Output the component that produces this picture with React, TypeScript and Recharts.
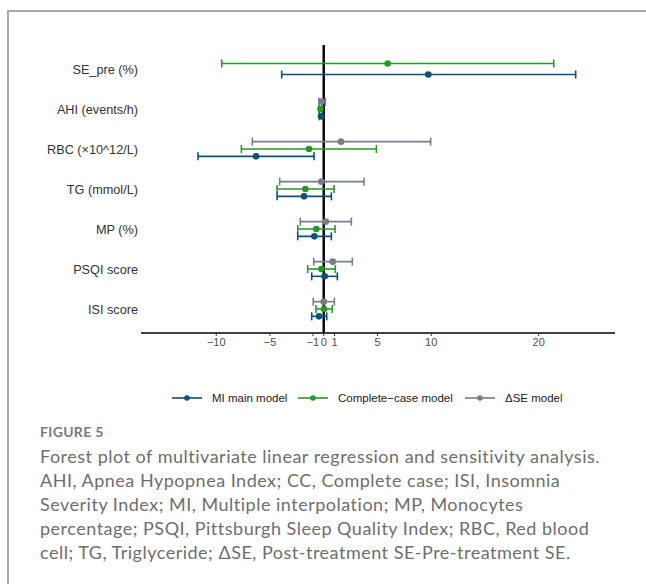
import React from 'react';
import { ComposedChart, Scatter, ErrorBar, XAxis, YAxis, ReferenceLine } from 'recharts';

const categories = ['SE_pre (%)', 'AHI (events/h)', 'RBC (×10^12/L)', 'TG (mmol/L)', 'MP (%)', 'PSQI score', 'ISI score'];

const miEst = [9.73, -0.25, -6.3, -1.83, -0.87, 0.09, -0.44];
const miLo = [-3.91, -0.4, -11.7, -4.34, -2.42, -1.12, -1.12];
const miHi = [23.44, -0.1, -0.9, 0.71, 0.71, 1.27, 0.28];

const ccEst = [5.95, -0.3, -1.37, -1.71, -0.69, -0.22, 0.03];
const ccLo = [-9.49, -0.45, -7.66, -4.34, -2.42, -1.49, -0.72];
const ccHi = [21.4, -0.15, 4.9, 0.96, 1.05, 1.08, 0.8];

const dseEst = [null, -0.22, 1.61, -0.22, 0.19, 0.84, 0.0];
const dseLo = [null, -0.45, -6.64, -4.1, -2.18, -0.93, -0.97];
const dseHi = [null, 0.15, 9.95, 3.75, 2.57, 2.66, 0.99];

const xTicks = [-10, -5, -1, 0, 1, 5, 10, 20];

const seriesNames = ['MI main model', 'Complete\u2212case model', '\u0394SE model'];
const colors = ['#0b5276', '#2a952a', '#767d86'];

type S = { est: (number | null)[]; lo: (number | null)[]; hi: (number | null)[] };
const series: S[] = [
  { est: miEst, lo: miLo, hi: miHi },
  { est: ccEst, lo: ccLo, hi: ccHi },
  { est: dseEst, lo: dseLo, hi: dseHi },
];

// stacking order within a row from top: dSE (2), CC (1), MI (0)
const DODGE = 0.55;
function buildData(si: number) {
  const out: any[] = [];
  categories.forEach((_, i) => {
    const present = [2, 1, 0].filter((k) => series[k].est[i] !== null);
    const n = present.length;
    const pos = present.indexOf(si);
    const e = series[si].est[i];
    if (e === null || pos < 0) return;
    const off = (pos - (n - 1) / 2) * (DODGE / n);
    out.push({
      x: e,
      y: i + off,
      err: [e - (series[si].lo[i] as number), (series[si].hi[i] as number) - e],
    });
  });
  return out;
}

const fmt = (v: number) => (v < 0 ? '\u2212' + Math.abs(v) : String(v));

const Dot = (color: string) => (props: any) => {
  const { cx, cy } = props;
  if (cx == null || cy == null) return <g />;
  return <circle cx={cx} cy={cy} r={3.3} fill={color} />;
};

const captionLines = [
  'Forest plot of multivariate linear regression and sensitivity analysis.',
  'AHI, Apnea Hypopnea Index; CC, Complete case; ISI, Insomnia',
  'Severity Index; MI, Multiple interpolation; MP, Monocytes',
  'percentage; PSQI, Pittsburgh Sleep Quality Index; RBC, Red blood',
  'cell; TG, Triglyceride; \u0394SE, Post-treatment SE-Pre-treatment SE.',
];

export default function App() {
  const order = [2, 1, 0];
  return (
    <div style={{ position: 'absolute', left: 0, top: 0, width: 646, height: 584, overflow: 'hidden', background: '#fff' }}>
      <div style={{ position: 'absolute', left: 7, top: 10, width: 700, height: 700, borderTop: '2px solid #a8a8a8', borderLeft: '2px solid #a8a8a8' }} />
      <div style={{ position: 'absolute', left: 0, top: 0 }}>
        <ComposedChart width={646} height={380} margin={{ top: 45, right: 31, left: 0, bottom: 17 }}>
          <XAxis
            type="number"
            dataKey="x"
            domain={[-17, 27.1]}
            ticks={xTicks}
            allowDataOverflow
            tickFormatter={fmt}
            axisLine={{ stroke: '#000', strokeWidth: 1.6 }}
            tickLine={{ stroke: '#333', strokeWidth: 1 }}
            tickSize={3}
            tick={{ fill: '#4d4d4d', fontSize: 11, fontFamily: 'Liberation Sans, Arial, sans-serif' }}
            height={30}
            interval={0}
          />
          <YAxis
            type="number"
            dataKey="y"
            domain={[-0.6, 6.6]}
            ticks={[0, 1, 2, 3, 4, 5, 6]}
            reversed
            allowDataOverflow
            width={141}
            axisLine={false}
            tickLine={false}
            tickSize={0}
            tickMargin={3}
            interval={0}
            tickFormatter={(v: number) => categories[Math.round(v)] ?? ''}
            tick={{ fill: '#333333', fontSize: 12.7, fontFamily: 'Liberation Sans, Arial, sans-serif' }}
          />
          <ReferenceLine x={0} stroke="#000" strokeWidth={2.4} ifOverflow="extendDomain" />
          {order.map((si) => (
            <Scatter
              key={si}
              name={seriesNames[si]}
              data={buildData(si)}
              fill={colors[si]}
              shape={Dot(colors[si])}
              isAnimationActive={false}
            >
              <ErrorBar dataKey="err" direction="x" width={4} stroke={colors[si]} strokeWidth={1.6} isAnimationActive={false} />
            </Scatter>
          ))}
        </ComposedChart>
      </div>
      <div style={{ position: 'absolute', left: 0, top: 388, width: 646, height: 20, fontFamily: 'Liberation Sans, Arial, sans-serif', fontSize: 11.5, color: '#1a1a1a' }}>
        {[0, 1, 2].map((si) => {
          const lefts = [172, 298, 465];
          return (
            <div key={si} style={{ position: 'absolute', left: lefts[si], top: 0, height: 20, display: 'flex', alignItems: 'center', whiteSpace: 'nowrap' }}>
              <svg width={30} height={10} style={{ marginRight: 10 }}>
                <line x1={0} y1={5} x2={30} y2={5} stroke={colors[si]} strokeWidth={1.6} />
                <circle cx={15} cy={5} r={2.8} fill={colors[si]} />
              </svg>
              <span>{seriesNames[si]}</span>
            </div>
          );
        })}
      </div>
      <div style={{ position: 'absolute', left: 40, top: 423, fontFamily: 'Lato, "Open Sans", sans-serif', fontWeight: 700, fontSize: 14, color: '#7a7a7a', letterSpacing: 0.3 }}>
        FIGURE 5
      </div>
      {captionLines.map((t, i) => (
        <div key={i} style={{ position: 'absolute', left: 40, top: 444 + i * 24, fontFamily: 'Lato, "Open Sans", sans-serif', fontSize: 18, letterSpacing: 0.5, color: '#6e6e6e', whiteSpace: 'nowrap', lineHeight: '24px' }}>
          {t}
        </div>
      ))}
    </div>
  );
}
